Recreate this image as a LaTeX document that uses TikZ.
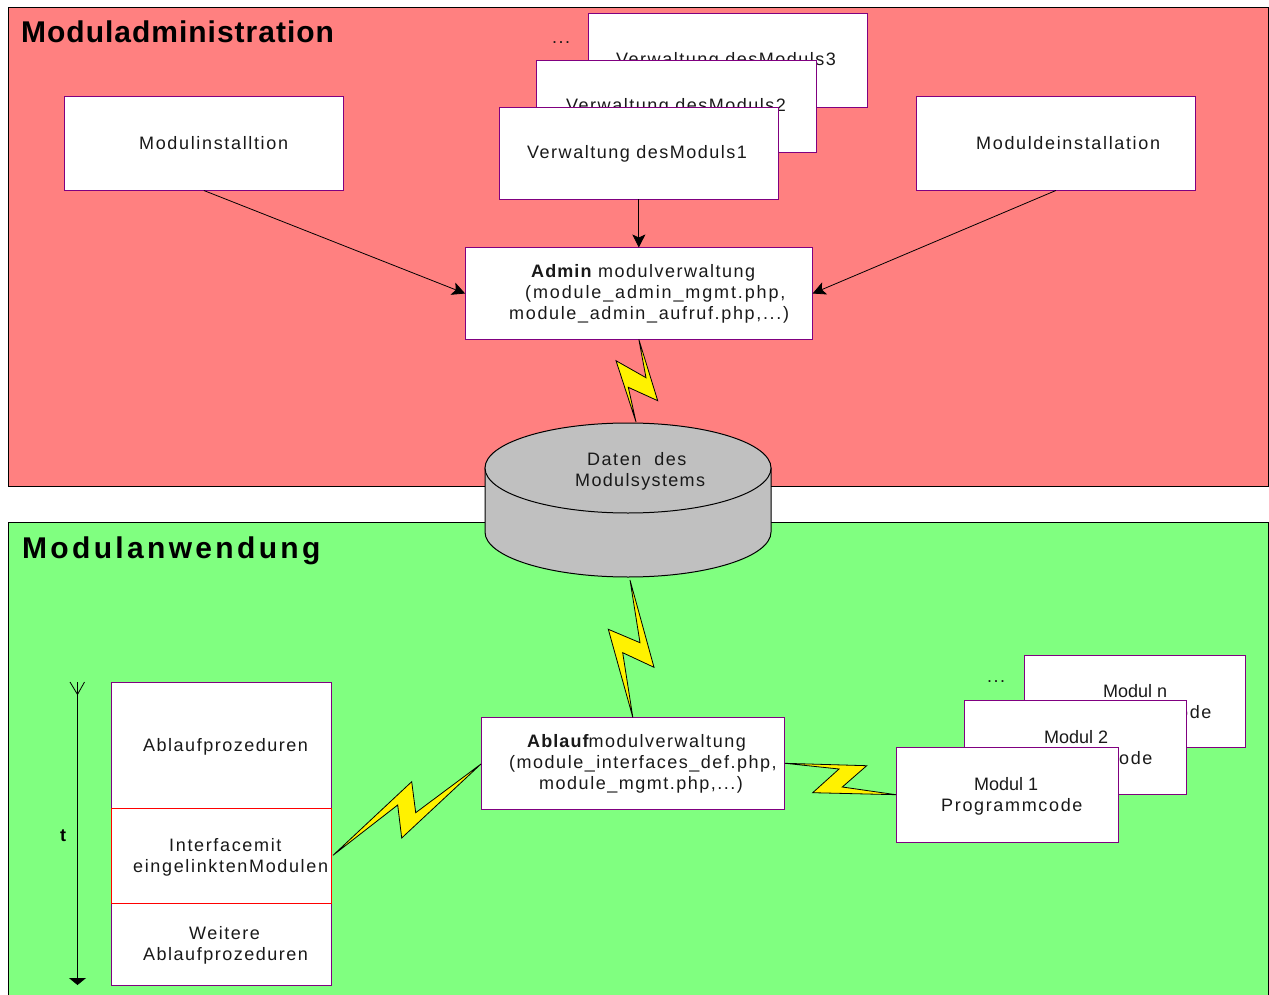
\documentclass[tikz,border=0pt]{standalone}
\usepackage{fontspec}
\setmainfont{Liberation Sans}
\newfontfamily\spaced[LetterSpace=8.4]{Liberation Sans}
\newfontfamily\spacednarrow[LetterSpace=7.5]{Liberation Sans}
\newfontfamily\spacedmid[LetterSpace=9.2]{Liberation Sans}
\newfontfamily\spacedwide[LetterSpace=10.4]{Liberation Sans}
\newfontfamily\plainf{Liberation Sans}
\newfontfamily\titleA[LetterSpace=3.3]{Liberation Sans Bold}
\newfontfamily\titleB[LetterSpace=11.1]{Liberation Sans Bold}
\newfontfamily\boldsp[LetterSpace=6]{Liberation Sans Bold}
\usetikzlibrary{arrows.meta}
\definecolor{panelred}{HTML}{FF8080}
\definecolor{panelgreen}{HTML}{80FF80}
\definecolor{boxpurple}{HTML}{800080}
\definecolor{dbgrey}{HTML}{C0C0C0}
\tikzset{
  x=1pt,y=-1pt,
  panel/.style={draw=black,line width=0.8pt},
  box/.style={draw=boxpurple,fill=white,line width=1pt,rectangle,inner sep=0pt,outer sep=0pt,anchor=north west},
  redbox/.style={box,draw=red},
  lbl/.style={inner sep=0pt,anchor=west,align=left,text=black!90,font=\fontsize{18}{20.8}\selectfont\spaced},
  lblmid/.style={lbl,font=\fontsize{18}{20.8}\selectfont\spacedmid},
  title/.style={inner sep=0pt,anchor=west,text=black},
  conn/.style={draw=black,line width=0.8pt,-{Stealth[length=13pt,width=13pt,inset=3pt]}},
  bolt/.style={draw=black,fill=yellow,line width=0.8pt,line join=miter},
  db/.style={draw=black,fill=dbgrey,line width=1pt}
}
\newcommand{\boxat}[6][box]{\node[#1,minimum width=#5pt-0.5pt,minimum height=#6pt] (#2) at (#3+0.1,#4+0.5) {};}
\begin{document}
\begin{tikzpicture}
\useasboundingbox (0,0) rectangle (1269,995);
\fill[white] (0,0) rectangle (1269,995);
\begin{scope}
\clip (0,0) rectangle (1269,995);
\draw[panel,fill=panelred] (8.5,7.8) rectangle (1268,486);
\draw[panel,fill=panelgreen] (8.5,522) rectangle (1268,1010);
\end{scope}
\node[title,font=\fontsize{30}{34}\selectfont\titleA] (t1) at (21,32) {Moduladministration};
\node[title,font=\fontsize{30}{34}\selectfont\titleB] (t2) at (22,551) {Modulanwendung};

% top row
\boxat{mi}{64}{96}{280}{94}
\node[lblmid] (lmi) at (139,143) {Modulinstalltion};
\boxat{mde}{916}{96}{280}{94}
\node[lblmid] (lmde) at (976,143) {Moduldeinstallation};
\node[lbl] (dots1) at (552,43) {...};
\boxat{v3}{588}{13}{280}{94}
\node[lbl] (lv3) at (616,61) {Verwaltung desModuls3};
\boxat{v2}{536}{60}{281}{92}
\node[lbl] (lv2) at (566,107) {Verwaltung desModuls2};
\boxat{v1}{499}{107}{280}{92}
\node[lbl] (lv1) at (527,154) {Verwaltung desModuls1};
\boxat{adm}{465}{247}{348}{92}
\node[lbl] (ladm) at (509,294) {\hspace*{22pt}{\boldsp Admin} modulverwaltung\\\hspace*{16pt}{\spacedwide(module\_admin\_mgmt.php,}\\{\spacedmid module\_admin\_aufruf.php,...)}};

\draw[conn] (mi.south) -- (adm.west);
\draw[conn] (v1.south) -- (adm.north);
\draw[conn] (mde.south) -- (adm.east);

% database
\coordinate (dbtop) at (636,422);
\coordinate (dbbot) at (630,580);
\draw[db] (485,468) -- (485,532) arc[start angle=180,end angle=0,x radius=143,y radius=45] -- (771,468) -- cycle;
\draw[db] (628,468) ellipse[x radius=143,y radius=45];
\node[lbl] (ldb) at (575,471.5) {\hspace*{12pt}Daten\ \ des\\{\spacednarrow Modulsystems}};

% bolt upper
\draw[bolt] (adm.south) -- (657.7,400.7) -- (628.3,387.3) -- (dbtop) -- (616,360.7) -- (646,377.7) -- cycle;

% Ablauf box
\boxat{abl}{481}{717}{304}{92}
\node[lbl] (labl) at (509,764) {\hspace*{18pt}{\boldsp Ablauf}modulverwaltung\\(module\_interfaces\_def.php,\\\hspace*{30pt}module\_mgmt.php,...)};
\draw[bolt] (dbbot) -- (654,667.3) -- (622.7,652.7) -- (abl.north) -- (608.3,629.3) -- (640,642.7) -- cycle;

% modules
\node[lbl] (dots2) at (987,682) {...};
\boxat{mn}{1024}{655}{222}{92}
\node[lblmid] (lmn) at (1070,703) {\hspace*{33pt}{\plainf Modul n}\\Programmcode};
\boxat{m2}{964}{700}{223}{94}
\node[lblmid] (lm2) at (1011,749) {\hspace*{33pt}{\plainf Modul 2}\\Programmcode};
\boxat{m1}{896}{747}{223}{95}
\node[lblmid] (lm1) at (941,796) {\hspace*{33pt}{\plainf Modul 1}\\Programmcode};
\coordinate (ablr) at (785,763.3);
\coordinate (m1l) at (896,794.7);
\draw[bolt] (ablr) -- (866.7,765.7) -- (842.3,787) -- (m1l) -- (812.7,792.7) -- (839,769) -- cycle;

% sequence stack: the red middle box is drawn last and a hair wider, so its four sides lie on top
\boxat{s1}{111}{682}{221}{127}
\boxat{s3}{111}{902.5}{221}{82.5}
\node[redbox,minimum width=220.9pt,minimum height=95.4pt] (s2) at (111,808.1) {};
\node[lbl] (ls1) at (143,747) {Ablaufprozeduren};
\node[lblmid] (ls2) at (133,857.5) {\hspace*{36pt}Interfacemit\\eingelinktenModulen};
\node[lbl] (ls3) at (143,945.5) {\hspace*{46pt}Weitere\\Ablaufprozeduren};
\coordinate (s2r) at (333,855.3);
\coordinate (abll) at (481,764);
\draw[bolt] (s2r) -- (411.7,781.7) -- (415.7,812.7) -- (abll) -- (401.7,838) -- (397.7,805) -- cycle;

% time axis
\coordinate (ttop) at (77.5,682);
\coordinate (tbot) at (77.5,985);
\draw[draw=black,line width=0.8pt,-{Triangle[length=7pt,width=17pt]}] (ttop) -- (tbot);
\draw[draw=black,line width=0.8pt] (70,682) -- (77.5,694.5) -- (84.5,682);
\node[inner sep=0pt,font=\fontsize{18}{20}\selectfont\bfseries] (lt) at (63,836) {t};
\end{tikzpicture}
\end{document}
